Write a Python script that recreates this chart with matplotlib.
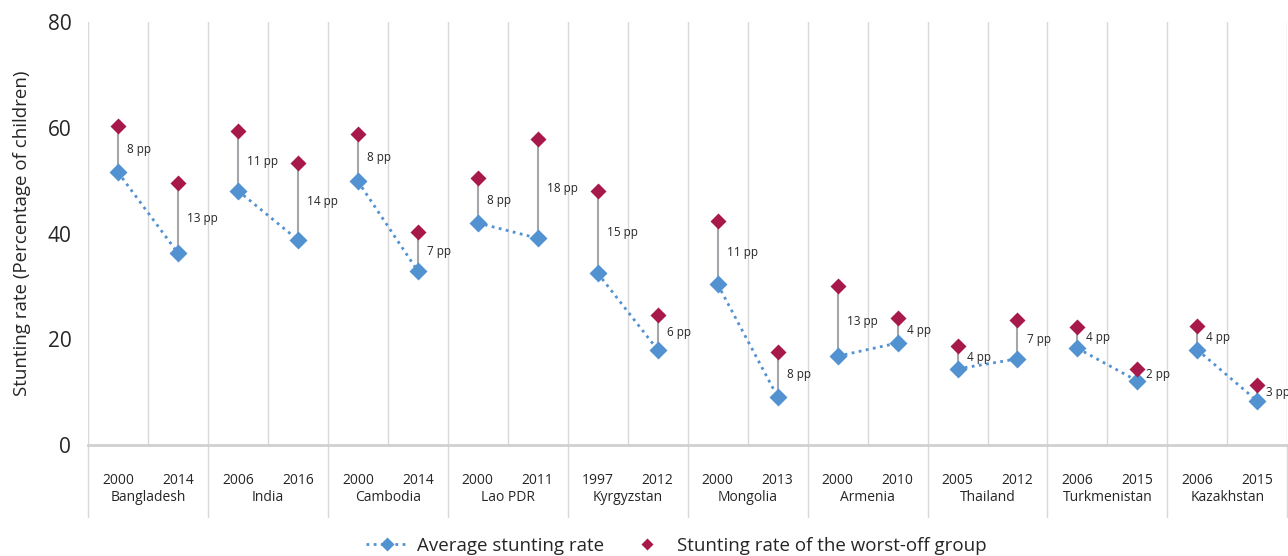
import numpy as np
import matplotlib.pyplot as plt
import matplotlib.transforms as mtransforms
from matplotlib.lines import Line2D

plt.rcParams['font.family'] = ['Open Sans', 'DejaVu Sans']

countries = ['Bangladesh', 'India', 'Cambodia', 'Lao PDR', 'Kyrgyzstan',
             'Mongolia', 'Armenia', 'Thailand', 'Turkmenistan', 'Kazakhstan']
years = ['2000', '2014', '2006', '2016', '2000', '2014', '2000', '2011', '1997', '2012',
         '2000', '2013', '2000', '2010', '2005', '2012', '2006', '2015', '2006', '2015']

# average stunting rate, two surveys per country
average = [51.6, 36.3, 48.1, 38.8, 49.9, 32.9, 42.0, 39.1, 32.5, 18.0,
           30.4, 9.1, 16.8, 19.3, 14.4, 16.3, 18.3, 12.1, 18.0, 8.3]
# stunting rate of the worst-off group
worst = [60.3, 49.5, 59.3, 53.3, 58.8, 40.3, 50.5, 57.8, 48.0, 24.6,
         42.3, 17.6, 30.1, 24.0, 18.7, 23.6, 22.4, 14.4, 22.5, 11.4]

blue = '#5392d0'
red = '#a8194b'
grid_c = '#d9d9d9'
text_c = '#262626'

fig = plt.figure(figsize=(12.88, 5.56), dpi=100)
ax = fig.add_axes([0.0683, 0.1996, 0.9312, 0.7608])

x = np.arange(len(years))

# vertical slot lines
for b in np.arange(-0.5, len(years) + 0.5, 1.0):
    ax.axvline(b, color=grid_c, lw=1, zorder=0)

# gap connectors and labels
for i in x:
    ax.plot([i, i], [average[i], worst[i]], color='#a3a7ab', lw=1.5, zorder=1)
    gap = int(worst[i] - average[i] + 1e-9)
    ax.annotate(f'{gap} pp', xy=(i, (average[i] + worst[i]) / 2), xytext=(6.5, 0),
                textcoords='offset points', va='center', ha='left',
                fontsize=8.5, color=text_c)

# dotted line joins the two surveys of each country
for k in range(len(countries)):
    sl = slice(2 * k, 2 * k + 2)
    ax.plot(x[sl], average[sl], color=blue, lw=2, ls=(0, (1, 1.6)), zorder=2)

ax.plot(x, average, 'D', color=blue, ms=9.5, mec='none', zorder=3)
ax.plot(x, worst, 'D', color=red, ms=8.5, mec='none', zorder=4)

ax.set_xlim(-0.5, len(years) - 0.5)
ax.set_ylim(0, 80)
ax.set_yticks([0, 20, 40, 60, 80])
ax.set_xticks(x)
ax.set_xticklabels(years, fontsize=10, color=text_c)
ax.tick_params(axis='x', length=0, pad=20)
ax.tick_params(axis='y', length=0, labelsize=15, labelcolor=text_c, pad=12)
ax.set_ylabel('Stunting rate (Percentage of children)', fontsize=13.5, color=text_c, labelpad=12)

for s in ['top', 'right', 'left']:
    ax.spines[s].set_visible(False)
ax.spines['bottom'].set_color('#d0d0d0')
ax.spines['bottom'].set_linewidth(2)

# country names and group separators under the axis
trans = mtransforms.blended_transform_factory(ax.transData, ax.transAxes)
for k, c in enumerate(countries):
    ax.text(2 * k + 0.5, -0.125, c, transform=trans, ha='center', va='center',
            fontsize=10, color=text_c)
for b in np.arange(-0.5, len(years) + 0.5, 2.0):
    ax.plot([b, b], [0, -0.17], transform=trans, color=grid_c, lw=1, clip_on=False)

handles = [Line2D([], [], color=blue, lw=2, ls=(0, (1, 1.6)), marker='D', ms=7, mec='none'),
           Line2D([], [], color=red, ls='none', marker='D', ms=6, mec='none')]
fig.legend(handles, ['Average stunting rate', 'Stunting rate of the worst-off group'],
           loc='center', bbox_to_anchor=(0.525, 0.018), ncol=2, frameon=False,
           fontsize=13.5, handlelength=2.2, columnspacing=1.2, handletextpad=0.5,
           labelcolor=text_c)

fig.savefig('out.png', dpi=100)
